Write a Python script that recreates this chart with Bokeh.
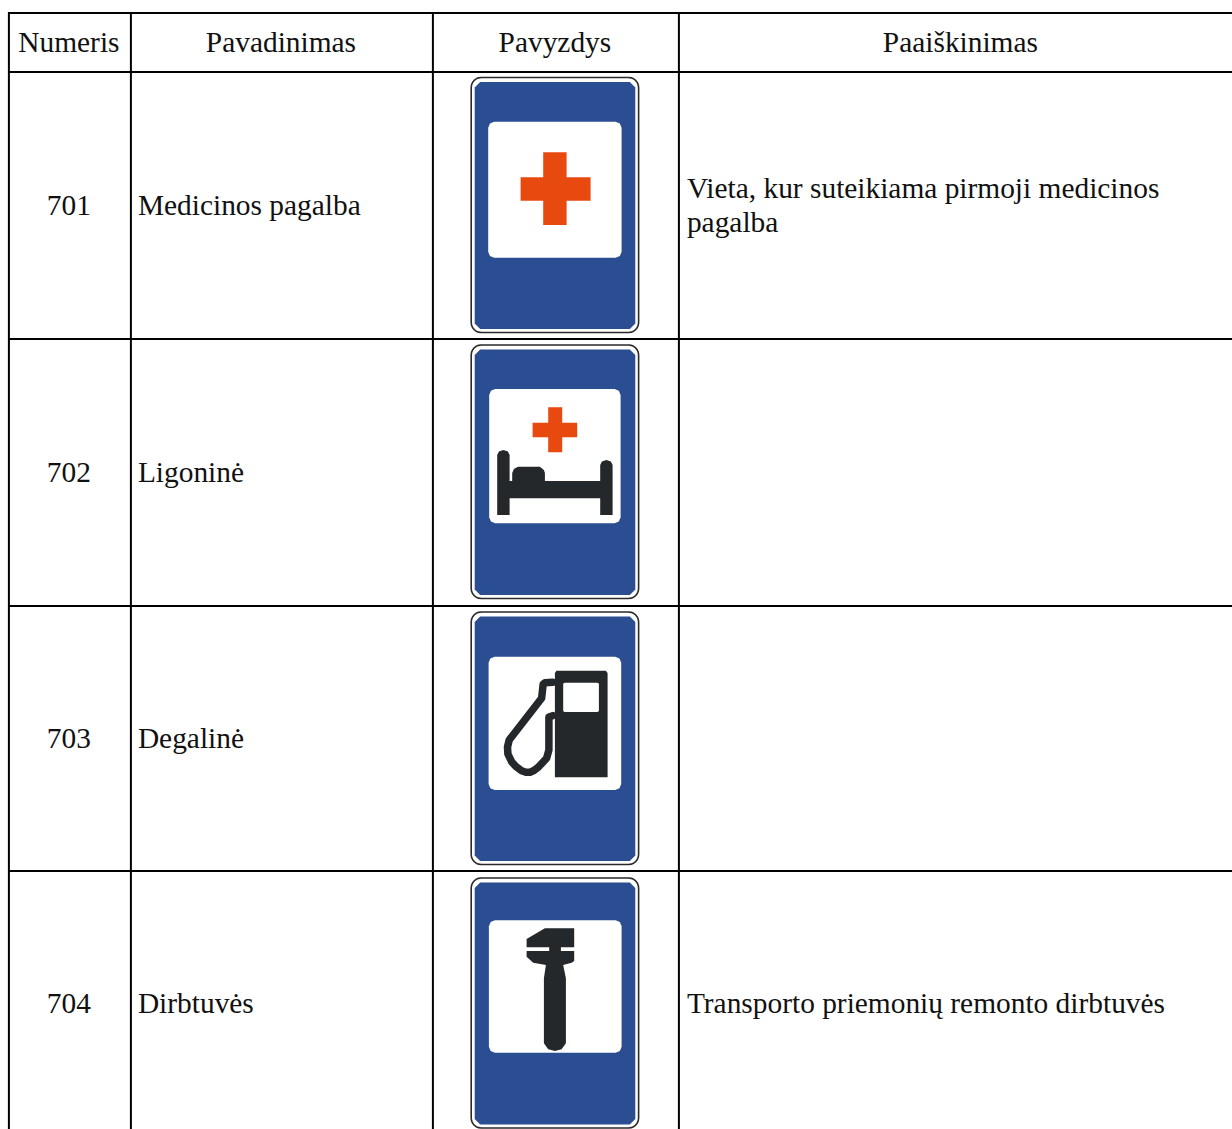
import math
from bokeh.plotting import figure
from bokeh.models import Range1d
from bokeh.core.properties import value
from bokeh.embed import file_html
from bokeh.resources import INLINE

# ---- table content
headers = ["Numeris", "Pavadinimas", "Pavyzdys", "Paaiškinimas"]
header_x = [69, 281, 555, 960.5]
numbers = ["701", "702", "703", "704"]
names = ["Medicinos pagalba", "Ligoninė", "Degalinė", "Dirbtuvės"]
row_baselines = [205, 472, 738, 1003]
header_baseline = 42
note_lines = ["Vieta, kur suteikiama pirmoji medicinos", "pagalba", "Transporto priemonių remonto dirbtuvės"]
note_baselines = [188, 222, 1003]
col_lines = [9, 131, 433, 679]
row_lines = [13, 72, 339, 606, 871]

# ---- sign geometry (top, bottom of outer frame; white panel)
sign_top = [77.5, 345, 612, 878]
sign_bot = [332.5, 598.5, 864.5, 1128]
panel_x0 = [488.3, 489.3, 488.7, 489]
panel_x1 = [621.7, 620.7, 621.3, 621.7]
panel_y0 = [121.7, 389, 656.7, 920.3]
panel_y1 = [257.7, 523.3, 790, 1052.7]

BLUE = "#2B4D91"
ORANGE = "#E8490F"
DARK = "#24282B"
INK = "#111111"


def rounded(x0, y0, x1, y1, r, n=6):
    xs, ys = [], []
    for cx, cy, a0 in [(x1 - r, y0 + r, -90), (x1 - r, y1 - r, 0), (x0 + r, y1 - r, 90), (x0 + r, y0 + r, 180)]:
        for i in range(n + 1):
            a = math.radians(a0 + 90 * i / n)
            xs.append(cx + r * math.cos(a))
            ys.append(cy + r * math.sin(a))
    return xs, ys


def chamfer(x0, y0, x1, y1, c):
    return ([x0 + c, x1 - c, x1, x1, x1 - c, x0 + c, x0, x0],
            [y0, y0, y0 + c, y1 - c, y1, y1, y1 - c, y0 + c])


def cross(hx0, hx1, hy0, hy1, vx0, vx1, vy0, vy1):
    return ([vx0, vx1, vx1, hx1, hx1, vx1, vx1, vx0, vx0, hx0, hx0, vx0],
            [vy0, vy0, hy0, hy0, hy1, hy1, vy1, vy1, hy1, hy1, hy0, hy0])


p = figure(width=1232, height=1129, x_range=Range1d(0.6, 1232.6), y_range=Range1d(1129.5, 0.5),
           x_axis_type=None, y_axis_type=None, toolbar_location=None,
           output_backend="svg", min_border=0, outline_line_color=None,
           background_fill_color="white", border_fill_color="white")
p.grid.visible = False

# signs: frame, blue field, white panel
for t, b, px0, px1, py0, py1 in zip(sign_top, sign_bot, panel_x0, panel_x1, panel_y0, panel_y1):
    xs, ys = rounded(471.3, t, 638.7, b, 10)
    p.patch(xs, ys, fill_color="white", line_color="#2A2A2A", line_width=1.6)
    xs, ys = chamfer(474.8, t + 4.5, 635.4, b - 3.5, 5.5)
    p.patch(xs, ys, fill_color=BLUE, line_color=None)
    xs, ys = rounded(px0, py0, px1, py1, 6, n=2)
    p.patch(xs, ys, fill_color="white", line_color=None)

# 701 cross
xs, ys = cross(520.7, 590.7, 177.3, 200.7, 543.3, 566.7, 152.3, 225)
p.patch(xs, ys, fill_color=ORANGE, line_color=None)

# 702 cross + bed
xs, ys = cross(532.7, 577.3, 422.7, 437.3, 548.3, 562.3, 407.3, 452.3)
p.patch(xs, ys, fill_color=ORANGE, line_color=None)
xs = [497.3, 497.3, 499, 503.5, 508, 509.7, 509.7, 512.3, 512.3, 514, 518, 540, 544, 545, 545,
      600.3, 600.3, 602, 606.5, 611, 612.7, 612.7, 600.3, 600.3, 509.7, 509.7]
ys = [515, 455, 451.5, 450, 451.5, 455, 481, 481, 473, 469, 466.7, 466.7, 470, 473, 481,
      481, 465, 461.5, 460, 461.5, 465, 515, 515, 498.3, 498.3, 515]
p.patch(xs, ys, fill_color=DARK, line_color=None)

# 703 pump + hose
xs = [555, 556.5, 606, 607.7, 607.7, 555]
ys = [673, 670.7, 670.7, 673, 777.3, 777.3]
p.patch(xs, ys, fill_color=DARK, line_color=None)
xs, ys = rounded(563.3, 682.7, 599, 712, 1.5, n=2)
p.patch(xs, ys, fill_color="white", line_color=None)
hose_x = [552.7, 545, 543.3, 541.7, 509.3, 507.6, 508, 511.7, 516, 521.7, 526, 530, 534, 538.3, 546.7, 549, 549, 552.7]
hose_y = [682.3, 682.8, 684, 698.3, 740, 747, 754, 761.7, 766.5, 770.7, 772.2, 772.3, 770.5, 767.3, 758.3, 750, 717, 715.7]
p.line(hose_x, hose_y, line_color=DARK, line_width=7.5, line_join="round", line_cap="round")

# 704 wrench
xs = [545, 574.3, 574.3, 561, 561, 574.3, 574.3, 571.7, 563.3, 566, 566, 561.7, 555, 548.3, 544,
      544, 546, 533.3, 526.7, 526.7, 549.3, 549.3, 526.7, 526.7]
ys = [928.3, 928.3, 947.3, 947.3, 951, 951, 961, 962.7, 965, 978.3, 1043.3, 1049.3, 1051, 1049.3, 1043.3,
      978.3, 965, 962.7, 956.7, 951, 951, 947.3, 947.3, 939]
p.patch(xs, ys, fill_color=DARK, line_color=None)

# table rules
p.segment(x0=[col_lines[0]] * len(row_lines), y0=row_lines, x1=[1240] * len(row_lines), y1=row_lines,
          line_color="black", line_width=2)
p.segment(x0=col_lines, y0=[row_lines[0] - 1] * len(col_lines), x1=col_lines, y1=[1140] * len(col_lines),
          line_color="black", line_width=2)

# texts
font = value("Liberation Serif")
size = "29.4px"
p.text(x=header_x, y=[header_baseline] * 4, text=headers, text_font=font, text_font_size=size, text_color=INK,
       text_align="center", text_baseline="alphabetic")
p.text(x=[69] * 4, y=row_baselines, text=numbers, text_font=font, text_font_size=size, text_color=INK,
       text_align="center", text_baseline="alphabetic")
p.text(x=[138] * 4, y=row_baselines, text=names, text_font=font, text_font_size=size, text_color=INK,
       text_align="left", text_baseline="alphabetic")
p.text(x=[687] * 3, y=note_baselines, text=note_lines, text_font=font, text_font_size=size, text_color=INK,
       text_align="left", text_baseline="alphabetic")

open("out.html", "w").write(file_html(p, INLINE))
